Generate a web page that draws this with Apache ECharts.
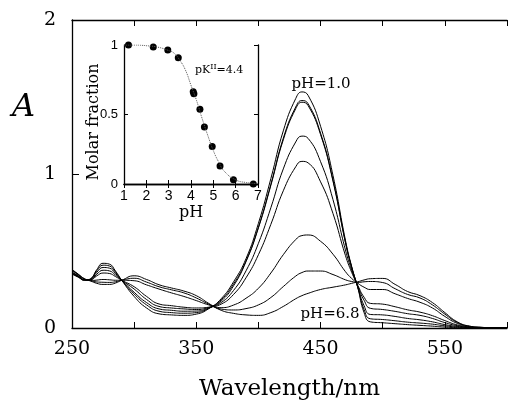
<!DOCTYPE html>
<html>
<head>
<meta charset="utf-8">
<script src="https://cdn.jsdelivr.net/npm/echarts@6/dist/echarts.min.js"></script>
<style>
  html, body { margin: 0; padding: 0; background: #fff; }
  #main { width: 510px; height: 406px; }
</style>
</head>
<body>
<div id="main"></div>
<script>
// wavelengths (nm)
var wl = [250,255,260,265,270,275,280,285,290,300,310,320,330,340,350,360,370,380,390,400,410,420,430,435,440,450,460,470,475,480,485,490,500,510,520,530,540,550,560,570,580,590,600];

// absorbance, one array per spectrum (pH 1.0 ... pH 6.8)
var specPH10 = [0.35,0.33,0.31,0.32,0.38,0.42,0.415,0.37,0.31,0.205,0.13,0.092,0.085,0.082,0.09,0.125,0.19,0.3,0.45,0.68,0.97,1.28,1.49,1.533,1.51,1.31,0.99,0.57,0.40,0.26,0.1,0.04,0.034,0.028,0.022,0.017,0.012,0.006,0.002,0,0,0,0];
var spec2 = [0.353,0.332,0.311,0.319,0.372,0.408,0.403,0.363,0.31,0.221,0.15,0.109,0.1,0.096,0.1,0.128,0.183,0.286,0.435,0.655,0.933,1.232,1.435,1.477,1.456,1.265,0.96,0.558,0.395,0.263,0.12,0.06,0.055,0.047,0.038,0.032,0.025,0.014,0.006,0.002,0.001,0,0];
var spec3 = [0.356,0.334,0.312,0.317,0.362,0.393,0.389,0.354,0.31,0.232,0.165,0.124,0.115,0.109,0.11,0.13,0.175,0.274,0.431,0.65,0.926,1.222,1.424,1.466,1.444,1.256,0.953,0.555,0.394,0.265,0.145,0.088,0.085,0.075,0.062,0.053,0.04,0.022,0.01,0.003,0.001,0,0];
var spec4 = [0.36,0.337,0.313,0.315,0.35,0.375,0.371,0.344,0.31,0.253,0.185,0.14,0.13,0.124,0.12,0.133,0.165,0.244,0.371,0.55,0.781,1.033,1.208,1.246,1.231,1.08,0.833,0.507,0.376,0.271,0.18,0.128,0.12,0.108,0.093,0.082,0.062,0.035,0.015,0.005,0.002,0,0];
var spec5 = [0.364,0.339,0.315,0.313,0.339,0.357,0.354,0.334,0.31,0.268,0.205,0.156,0.145,0.135,0.13,0.135,0.155,0.218,0.326,0.476,0.673,0.891,1.047,1.082,1.072,0.949,0.743,0.471,0.362,0.276,0.2,0.16,0.155,0.138,0.118,0.103,0.08,0.048,0.02,0.006,0.002,0,0];
var spec6 = [0.373,0.345,0.318,0.308,0.311,0.315,0.313,0.31,0.31,0.307,0.28,0.253,0.228,0.205,0.178,0.15,0.132,0.149,0.193,0.258,0.357,0.476,0.574,0.6,0.604,0.563,0.479,0.366,0.322,0.29,0.265,0.25,0.25,0.222,0.192,0.167,0.13,0.075,0.03,0.009,0.003,0.001,0];
var spec7 = [0.377,0.348,0.319,0.307,0.299,0.297,0.296,0.3,0.31,0.323,0.298,0.268,0.248,0.228,0.195,0.155,0.123,0.117,0.126,0.15,0.198,0.269,0.337,0.36,0.37,0.37,0.347,0.313,0.302,0.296,0.3,0.302,0.295,0.255,0.218,0.195,0.15,0.09,0.036,0.011,0.004,0.001,0];
var specPH68 = [0.38,0.35,0.32,0.305,0.29,0.283,0.283,0.292,0.31,0.339,0.315,0.281,0.26,0.24,0.21,0.16,0.115,0.095,0.085,0.082,0.1,0.14,0.19,0.21,0.225,0.25,0.265,0.28,0.29,0.3,0.312,0.32,0.322,0.283,0.237,0.21,0.165,0.1,0.04,0.012,0.004,0.001,0];

// inset: molar fraction vs pH
var dotPH = [1.2,2.31,2.96,3.43,4.1,4.13,4.4,4.6,4.95,5.3,5.9,6.79];
var dotFrac = [1.0,0.986,0.964,0.909,0.664,0.65,0.537,0.41,0.27,0.13,0.03,0.0];
var fitPH = [1,1.5,2,2.5,3,3.25,3.5,3.75,4,4.25,4.5,4.75,5,5.25,5.5,6,6.5,7];
var fitFrac = [1.0,1.0,0.995,0.985,0.96,0.94,0.89,0.82,0.71,0.6,0.47,0.35,0.24,0.155,0.09,0.03,0.01,0.003];

var serif = 'DejaVu Serif';
var sans = 'Liberation Sans';

var spectra = [specPH10, spec2, spec3, spec4, spec5, spec6, spec7, specPH68];
var series = spectra.map(function (s) {
  return {
    type: 'line',
    xAxisIndex: 0,
    yAxisIndex: 0,
    smooth: 0.5,
    symbol: 'none',
    lineStyle: { color: '#000', width: 1 },
    data: wl.map(function (w, i) { return [w, s[i]]; })
  };
});
series.push({
  type: 'line',
  xAxisIndex: 2,
  yAxisIndex: 1,
  smooth: true,
  symbol: 'none',
  lineStyle: { color: '#555', width: 1, type: 'dotted' },
  data: fitPH.map(function (p, i) { return [p, fitFrac[i]]; })
});
series.push({
  type: 'scatter',
  xAxisIndex: 2,
  yAxisIndex: 1,
  symbolSize: 7,
  itemStyle: { color: '#000', opacity: 1 },
  data: dotPH.map(function (p, i) { return [p, dotFrac[i]]; })
});

var axLine = { show: true, lineStyle: { color: '#000', width: 1.3 } };

var myChart = echarts.init(document.getElementById('main'));
myChart.setOption({
  animation: false,
  backgroundColor: '#fff',
  grid: [
    { left: 72, top: 20, right: -10, bottom: 75 },
    { left: 124, top: 45, width: 134, height: 139 }
  ],
  xAxis: [
    {
      gridIndex: 0, type: 'value', position: 'bottom',
      min: 250, max: 600, interval: 50,
      axisLine: axLine,
      axisTick: { inside: true, length: 6, lineStyle: { color: '#000' } },
      splitLine: { show: false },
      axisLabel: {
        color: '#000', fontFamily: serif, fontSize: 19, margin: 12,
        formatter: function (v) { return (v - 250) % 100 === 0 ? String(v) : ''; }
      },
      name: 'Wavelength/nm', nameLocation: 'middle', nameGap: 50,
      nameTextStyle: { color: '#000', fontFamily: serif, fontSize: 23 }
    },
    {
      gridIndex: 0, type: 'value', position: 'top',
      min: 250, max: 600, interval: 50,
      axisLine: axLine,
      axisTick: { inside: true, length: 6, lineStyle: { color: '#000' } },
      splitLine: { show: false },
      axisLabel: { show: false }
    },
    {
      gridIndex: 1, type: 'value', position: 'bottom',
      min: 1, max: 7, interval: 1,
      axisLine: axLine,
      axisTick: { inside: true, length: 4, lineStyle: { color: '#000' } },
      splitLine: { show: false },
      axisLabel: { color: '#000', fontFamily: sans, fontSize: 14, margin: 5 },
      name: 'pH', nameLocation: 'middle', nameGap: 21,
      nameTextStyle: { color: '#000', fontFamily: serif, fontSize: 16 }
    },
    {
      gridIndex: 1, type: 'value', position: 'top',
      min: 1, max: 7, interval: 1,
      axisLine: axLine,
      axisTick: { inside: true, length: 4, lineStyle: { color: '#000' } },
      splitLine: { show: false },
      axisLabel: { show: false }
    }
  ],
  yAxis: [
    {
      gridIndex: 0, type: 'value',
      min: 0, max: 2, interval: 1,
      axisLine: axLine,
      axisTick: { inside: true, length: 7, lineStyle: { color: '#000' } },
      splitLine: { show: false },
      axisLabel: { color: '#000', fontFamily: serif, fontSize: 19, margin: 16 }
    },
    {
      gridIndex: 1, type: 'value',
      min: 0, max: 1, interval: 0.5,
      axisLine: axLine,
      axisTick: { inside: true, length: 4, lineStyle: { color: '#000' } },
      splitLine: { show: false },
      axisLabel: { color: '#000', fontFamily: sans, fontSize: 13, margin: 6 }
    },
    {
      gridIndex: 1, type: 'value', position: 'right',
      min: 0, max: 1, interval: 0.5,
      axisLine: axLine,
      axisTick: { inside: true, length: 4, lineStyle: { color: '#000' } },
      splitLine: { show: false },
      axisLabel: { show: false }
    }
  ],
  graphic: [
    { type: 'text', left: 12, top: 92, style: { text: 'A', font: 'italic 32px "DejaVu Serif"', fill: '#000' } },
    { type: 'text', x: 94, y: 122, rotation: Math.PI / 2,
      style: { text: 'Molar fraction', font: '16px "DejaVu Serif"', fill: '#000', align: 'center', verticalAlign: 'middle' } },
    { type: 'text', x: 195, y: 70,
      style: {
        text: '{a|pK}{s|II}{a|=4.4}', verticalAlign: 'middle',
        rich: {
          a: { fontFamily: serif, fontSize: 11, fill: '#000', lineHeight: 14 },
          s: { fontFamily: serif, fontSize: 8, fill: '#000', verticalAlign: 'top', lineHeight: 14 }
        }
      } },
    { type: 'text', x: 321, y: 84,
      style: { text: 'pH=1.0', font: '15px "DejaVu Serif"', fill: '#000', align: 'center', verticalAlign: 'middle' } },
    { type: 'text', x: 330, y: 314,
      style: { text: 'pH=6.8', font: '15px "DejaVu Serif"', fill: '#000', align: 'center', verticalAlign: 'middle' } }
  ],
  series: series
});
</script>
</body>
</html>
